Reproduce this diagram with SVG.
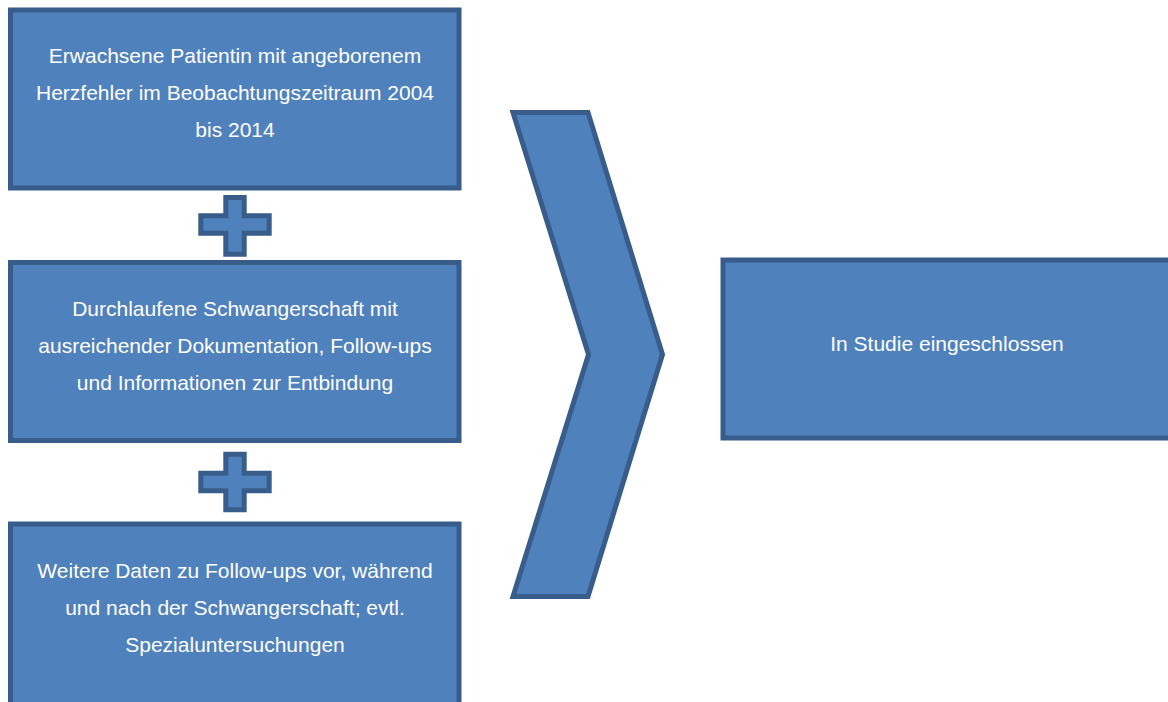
<svg xmlns="http://www.w3.org/2000/svg" width="1168" height="702" viewBox="0 0 1168 702">
<style>
.box{fill:#4F81BD;stroke:#385D8A;stroke-width:5}
.txt{font-family:"Liberation Sans",Arial,sans-serif;font-size:21px;fill:#FFFFFF;text-anchor:middle}
</style>
<rect width="1168" height="702" fill="#FFFFFF"/>
<g id="connectors">
<polygon id="plus1" class="box" points="225.8,197.5 244.2,197.5 244.2,215.8 269.2,215.8 269.2,233.2 244.2,233.2 244.2,254.2 225.8,254.2 225.8,233.2 200.8,233.2 200.8,215.8 225.8,215.8"/>
<polygon id="plus2" class="box" points="225.8,454.2 244.2,454.2 244.2,473.2 269.2,473.2 269.2,490.8 244.2,490.8 244.2,509.8 225.8,509.8 225.8,490.8 200.8,490.8 200.8,473.2 225.8,473.2"/>
<polygon id="chevron" class="box" points="513,112.5 588,112.5 662.5,354.5 588,596.5 513,596.5 588.5,354.5"/>
</g>
<g id="node1">
<rect class="box" x="10.5" y="10" width="448.5" height="178"/>
<text class="txt" x="235" y="63.3">Erwachsene Patientin mit angeborenem</text>
<text class="txt" x="235" y="100">Herzfehler im Beobachtungszeitraum 2004</text>
<text class="txt" x="235" y="136.7">bis 2014</text>
</g>
<g id="node2">
<rect class="box" x="10.5" y="262.5" width="448.5" height="178"/>
<text class="txt" x="235" y="316">Durchlaufene Schwangerschaft mit</text>
<text class="txt" x="235" y="352.7">ausreichender Dokumentation, Follow-ups</text>
<text class="txt" x="235" y="390">und Informationen zur Entbindung</text>
</g>
<g id="node3">
<rect class="box" x="10.5" y="524" width="448.5" height="181"/>
<text class="txt" x="235" y="578.3">Weitere Daten zu Follow-ups vor, während</text>
<text class="txt" x="235" y="615">und nach der Schwangerschaft; evtl.</text>
<text class="txt" x="235" y="651.5">Spezialuntersuchungen</text>
</g>
<g id="node4">
<rect class="box" x="723" y="260" width="448" height="178"/>
<text class="txt" x="947" y="350.7">In Studie eingeschlossen</text>
</g>
</svg>
